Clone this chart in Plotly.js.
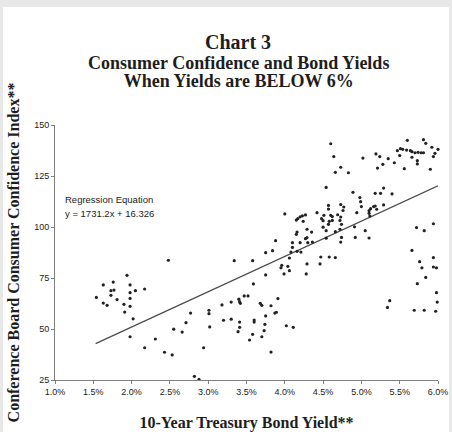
<!DOCTYPE html>
<html>
<head>
<meta charset="utf-8">
<script src="https://cdn.plot.ly/plotly-3.0.1.min.js"></script>
<style>
  html, body { margin: 0; padding: 0; background: #e8e8e8; width: 452px; height: 432px; overflow: hidden; }
  #chart { position: absolute; left: 3px; top: 7px; width: 446px; height: 425px; background: #ffffff; }
</style>
</head>
<body>
<div id="chart"></div>
<script>
// 10-Year Treasury Bond Yield (%)
const yields = [
  1.94,1.63,1.76,1.98,1.73,1.77,2.05,2.17,1.98,1.73,1.54,1.81,1.98,1.63,1.68,1.90,1.98,1.91,2.02,1.98,2.17,2.31,2.43,2.48,
  3.75,3.99,4.06,3.59,3.47,3.52,3.40,3.41,3.42,3.30,3.18,3.68,3.70,3.82,3.91,2.77,3.01,3.01,3.75,3.87,3.89,3.20,3.30,3.41,3.60,3.60,2.71,3.02,3.41,3.74,4.02,4.11,2.55,2.66,3.39,3.73,3.58,3.70,3.54,2.94,3.82,2.53,2.82,2.88,
  4.57,4.57,4.00,4.42,4.51,4.60,4.69,4.27,4.23,4.20,4.17,4.15,4.24,4.48,4.50,4.58,4.50,4.54,4.66,4.29,4.35,4.16,4.15,4.27,4.29,4.20,4.30,4.36,4.10,3.88,4.10,4.16,4.21,3.75,3.84,4.08,4.54,3.34,3.58,4.06,4.47,4.58,4.66,3.95,3.96,4.04,4.28,4.29,4.46,4.54,
  4.73,4.77,4.76,4.62,4.73,4.72,4.62,4.74,4.57,
  4.60,4.64,4.73,4.66,4.83,5.02,5.19,5.24,5.35,5.28,5.21,5.43,5.47,5.51,5.54,5.59,5.60,5.50,5.56,5.64,5.66,5.70,5.74,5.78,5.81,5.81,5.84,5.66,5.73,5.73,5.92,6.00,5.96,5.94,5.90,
  4.89,4.98,4.99,5.00,5.18,5.25,5.29,5.40,4.94,5.10,5.12,5.16,5.18,5.20,5.10,5.11,5.29,4.91,
  4.92,5.05,5.10,4.72,4.74,4.73,5.72,5.82,5.94,5.66,5.76,5.79,5.94,5.94,5.98,
  5.73,5.84,5.98,5.99,5.97,5.82,5.69,5.37,5.34
];
// Conference Board Consumer Confidence Index
const confidence = [
  76.3,71.6,73.0,71.6,68.8,69.1,68.8,69.6,67.8,66.5,65.5,64.4,65.0,62.7,61.6,62.1,61.1,58.3,55.0,46.2,40.8,45.1,38.6,83.7,
  76.5,77.0,78.6,72.1,66.2,66.2,64.6,63.4,62.6,63.2,61.8,62.6,61.6,61.4,64.9,57.8,59.2,57.5,56.4,57.8,58.2,54.3,54.8,53.4,54.4,53.4,53.1,51.0,50.8,52.3,51.6,50.8,49.9,48.5,48.7,49.2,47.4,46.2,44.6,40.8,38.7,37.3,26.8,25.3,
  110.6,108.8,106.4,107.0,105.7,105.7,106.0,105.9,105.5,105.0,104.1,103.4,102.8,104.1,103.1,102.8,99.9,98.2,97.7,98.9,97.5,97.5,96.4,94.3,94.8,92.3,92.3,92.6,92.3,93.3,90.0,88.1,87.7,87.4,88.4,87.7,94.5,83.5,83.5,84.8,85.3,85.3,85.0,80.0,81.2,80.7,77.0,81.9,81.9,119.4,
  111.0,109.8,108.1,105.1,104.9,103.2,103.2,101.3,101.3,
  140.8,134.5,129.3,126.8,126.6,133.8,135.8,134.5,133.5,130.7,128.9,131.5,137.4,138.4,138.1,137.7,142.5,135.0,128.6,137.4,136.9,136.4,136.6,136.4,136.4,142.8,141.0,134.2,132.5,130.9,139.1,138.1,136.1,134.5,128.3,
  117.0,114.4,112.4,110.0,116.5,116.5,119.1,116.2,107.0,108.0,109.0,110.0,110.3,108.7,106.7,105.4,110.8,100.1,
  94.9,98.2,94.6,98.9,94.9,92.6,99.7,98.2,101.6,88.5,83.0,80.0,85.0,80.4,80.0,
  72.2,75.3,67.8,63.2,58.7,59.2,59.2,63.9,60.6
];
// Regression line as printed on the chart: y = 1731.2x + 16.326 (x as a fraction)
const regSlope = 1731.2;
const regIntercept = 16.326;
const regYields = [1.53, 6.0];
const regValues = regYields.map(v => regSlope * v / 100 + regIntercept);

const xTicks = [1.0,1.5,2.0,2.5,3.0,3.5,4.0,4.5,5.0,5.5,6.0];
const xTickLabels = ['1.0%','1.5%','2.0%','2.5%','3.0%','3.5%','4.0%','4.5%','5.0%','5.5%','6.0%'];
const yTicks = [25,50,75,100,125,150];
const yTickLabels = ['25','50','75','100','125','150'];

const serif = '"Liberation Serif", "Times New Roman", serif';
const sans = '"Liberation Sans", Arial, sans-serif';

const traces = [
  {
    x: regYields, y: regValues, type: 'scatter', mode: 'lines',
    line: {color: '#4a4a4a', width: 1.2}, hoverinfo: 'skip', showlegend: false
  },
  {
    x: yields, y: confidence, type: 'scatter', mode: 'markers',
    marker: {color: '#222222', size: 3.2}, cliponaxis: false, showlegend: false
  }
];

const layout = {
  width: 446, height: 425,
  paper_bgcolor: '#ffffff', plot_bgcolor: '#ffffff',
  margin: {l: 52, r: 11, t: 118, b: 52},
  showlegend: false,
  title: {
    text: '<b>Chart 3</b>',
    font: {family: serif, size: 20, color: '#1e1e1e'},
    x: 0.527, xanchor: 'center', xref: 'container',
    y: 0.917, yanchor: 'middle', yref: 'container'
  },
  xaxis: {
    range: [1.0, 6.0], tickvals: xTicks, ticktext: xTickLabels,
    showgrid: false, zeroline: false,
    showline: true, linecolor: '#808080', linewidth: 1,
    ticks: 'outside', ticklen: 3, tickcolor: '#808080',
    tickfont: {family: sans, size: 9, color: '#222222'},
    title: {text: '<b>10-Year Treasury Bond Yield**</b>', font: {family: serif, size: 16, color: '#1e1e1e'}, standoff: 28}
  },
  yaxis: {
    range: [25, 150], tickvals: yTicks, ticktext: yTickLabels,
    showgrid: false, zeroline: false,
    showline: true, linecolor: '#808080', linewidth: 1,
    ticks: 'outside', ticklen: 3, tickcolor: '#808080',
    tickfont: {family: sans, size: 9, color: '#222222'},
    title: {text: '<b>Conference Board Consumer Confidence Index**</b>', font: {family: serif, size: 16, color: '#1e1e1e'}, standoff: 10}
  },
  annotations: [
    {text: '<span style="font-size:18px"><b>Consumer Confidence and Bond Yields</b></span><br><span style="font-size:18px"><b>When Yields are BELOW 6%</b></span>',
     xref: 'paper', yref: 'paper', x: 0.478, y: 1.2078,
     xanchor: 'center', yanchor: 'middle', showarrow: false, font: {family: serif, size: 14, color: '#1e1e1e'}},
    {text: 'Regression Equation', xref: 'paper', yref: 'paper', x: 0.021, y: 0.7098,
     xanchor: 'left', yanchor: 'middle', showarrow: false, font: {family: sans, size: 9.5, color: '#222222'}},
    {text: 'y = 1731.2x + 16.326', xref: 'paper', yref: 'paper', x: 0.021, y: 0.651,
     xanchor: 'left', yanchor: 'middle', showarrow: false, font: {family: sans, size: 9.5, color: '#222222'}}
  ]
};

Plotly.newPlot('chart', traces, layout, {displayModeBar: false, responsive: false, staticPlot: true});
</script>
</body>
</html>
